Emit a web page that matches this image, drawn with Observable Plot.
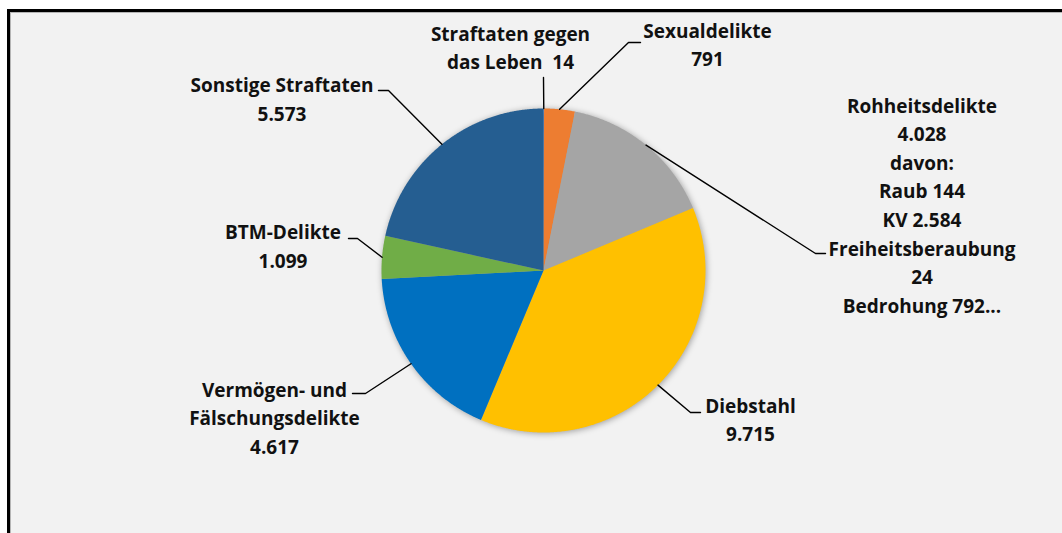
<!DOCTYPE html>
<html><head><meta charset="utf-8">
<script src="https://cdn.jsdelivr.net/npm/d3@7"></script>
<script src="https://cdn.jsdelivr.net/npm/@observablehq/plot@0.6"></script>
<style>
html,body{margin:0;padding:0;background:#fff;overflow:hidden;width:1062px;height:533px}
#frame{position:absolute;left:7px;top:9px;width:1100px;height:600px;border-top:3px solid #000;border-left:3px solid #000;background:#f2f2f2;box-shadow:inset 1px 1px 0 #b5b5b5;}
#chart{position:absolute;left:0;top:0}
</style></head><body><div id="frame"></div><div id="chart"></div>
<script>
// ---- data ----
const categories = ["Straftaten gegen das Leben","Sexualdelikte","Rohheitsdelikte","Diebstahl","Vermögen- und Fälschungsdelikte","BTM-Delikte","Sonstige Straftaten"];
const values = [14, 791, 4028, 9715, 4617, 1099, 5573];
const colors = ["#4472C4","#ED7D31","#A5A5A5","#FFC000","#0070C0","#70AD47","#255E91"];
const labelNames = ["Straftaten gegen\ndas Leben ", "Sexualdelikte\n", "Rohheitsdelikte\n", "Diebstahl\n", "Vermögen- und\nFälschungsdelikte\n", "BTM-Delikte\n", "Sonstige Straftaten\n"];
const rohheitSubNames = ["Raub", "KV", "Freiheitsberaubung\n", "Bedrohung"];
const rohheitSubValues = [144, 2584, 24, 792];

// ---- layout (pixels) ----
const cx = 543, cy = 270, r = 162;
const labelPos = [ // text block centre, leader elbow, leader end
  {tx: 510, ty: 45.5, ex: 543, ey: 77, hx: 543, hy: 77},
  {tx: 707, ty: 42.5, ex: 628, ey: 42, hx: 640, hy: 42},
  {tx: 921.5, ty: 203, ex: 815, ey: 253, hx: 825, hy: 253},
  {tx: 750, ty: 417.5, ex: 690, ey: 412, hx: 700, hy: 412},
  {tx: 274, ty: 415.5, ex: 365, ey: 393, hx: 352, hy: 393},
  {tx: 282.5, ty: 244, ex: 357, ey: 238, hx: 348, hy: 238},
  {tx: 281.5, ty: 97, ex: 388, ey: 90, hx: 378, hy: 90}
];

const de = d3.formatLocale({decimal: ",", thousands: ".", grouping: [3], currency: ["", " €"]});
const fmt = de.format(",d");

const arcs = d3.pie().sort(null).value(d => d)(values);
const px = a => cx + r * Math.sin(a);
const py = a => cy - r * Math.cos(a);

const slicePts = [];
arcs.forEach((a, i) => {
  slicePts.push({name: categories[i], x: cx, y: cy});
  const n = Math.max(2, Math.ceil((a.endAngle - a.startAngle) / 0.005));
  for (let k = 0; k <= n; k++) {
    const t = a.startAngle + (a.endAngle - a.startAngle) * k / n;
    slicePts.push({name: categories[i], x: px(t), y: py(t)});
  }
});

const leaderPts = [];
const labels = [];
arcs.forEach((a, i) => {
  const mid = (a.startAngle + a.endAngle) / 2;
  const L = labelPos[i];
  leaderPts.push({name: categories[i], x: px(mid), y: py(mid)});
  leaderPts.push({name: categories[i], x: L.ex, y: L.ey});
  leaderPts.push({name: categories[i], x: L.hx, y: L.hy});
  let text = labelNames[i] + (i === 0 ? " " : "") + fmt(values[i]);
  if (categories[i] === "Rohheitsdelikte") {
    text += "\ndavon:" + rohheitSubNames.map((s, j) => "\n" + s + (s.endsWith("\n") ? "" : " ") + fmt(rohheitSubValues[j]) + (j === rohheitSubNames.length - 1 ? "..." : "")).join("");
  }
  labels.push({x: L.tx, y: L.ty, text});
});

const chart = Plot.plot({
  width: 1062, height: 533,
  marginTop: 0, marginRight: 0, marginBottom: 0, marginLeft: 0,
  style: {background: "transparent", overflow: "visible"},
  x: {domain: [0, 1062], range: [0, 1062], axis: null},
  y: {domain: [0, 533], range: [0, 533], axis: null},
  color: {domain: categories, range: colors},
  marks: [
    Plot.line(slicePts, {x: "x", y: "y", z: "name", fill: "name", stroke: "none", curve: "linear-closed"}),
    Plot.line(leaderPts, {x: "x", y: "y", z: "name", stroke: "#000", strokeWidth: 1.4, fill: "none"}),
    Plot.text(labels, {x: "x", y: "y", text: "text", fontFamily: "Open Sans", fontWeight: "bold", fontSize: 19, lineHeight: 28.6 / 19, textAnchor: "middle", lineAnchor: "middle", fill: "#111"})
  ]
});
const g = chart.querySelector('g[aria-label="line"]');
if (g) g.style.filter = "drop-shadow(1px 1px 3px rgba(0,0,0,0.35))";
document.getElementById("chart").appendChild(chart);
</script>
</body></html>
